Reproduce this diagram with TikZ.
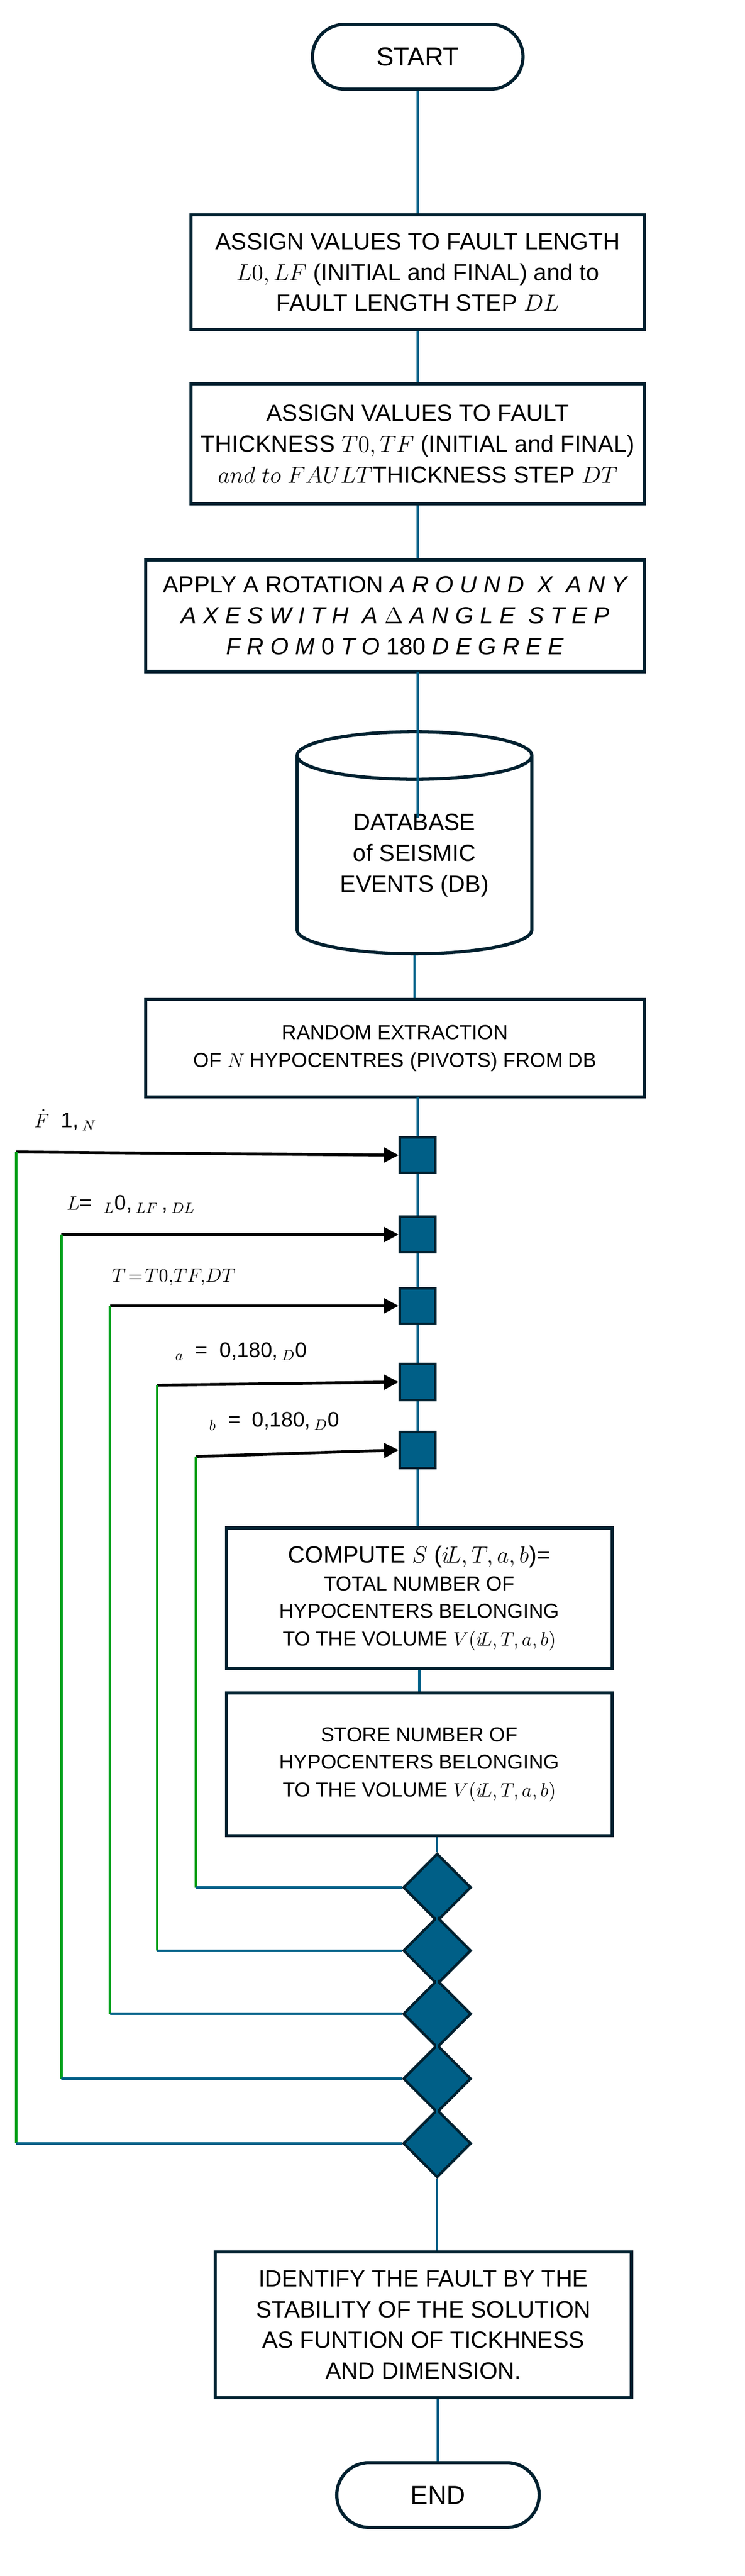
\documentclass[tikz,border=0pt]{standalone}
\usepackage{amsmath}
\usepackage{amssymb}
\usepackage{fontspec}
\setmainfont{Liberation Sans}
\usetikzlibrary{arrows.meta}
\usetikzlibrary{shapes.geometric}
\definecolor{navy}{HTML}{00202F}
\definecolor{flow}{HTML}{005F87}
\definecolor{loopg}{HTML}{00A01A}
\tikzset{
  box/.style={draw=navy, line width=2pt, align=center, inner sep=0pt, font=\fontsize{14.5}{19}\selectfont},
  term/.style={box, rounded corners=20pt, minimum width=130pt, minimum height=40pt, font=\fontsize{16}{18}\selectfont},
  flowline/.style={draw=flow, line width=1.5pt},
  loopline/.style={draw=loopg, line width=1.5pt},
  entry/.style={draw=black, line width=1.8pt, -{Triangle[length=9pt,width=9pt]}},
  sq/.style={draw=navy, fill=flow, line width=1.6pt, minimum size=22pt, inner sep=0pt},
  dia/.style={draw=navy, fill=flow, line width=1.6pt, diamond, minimum size=42pt, inner sep=0pt},
  lab/.style={anchor=south west, inner sep=1pt, font=\fontsize{13}{14}\selectfont},
}
\begin{document}
\begin{tikzpicture}[x=1pt,y=-1pt]
\useasboundingbox (0,0) rectangle (460,1590);
\node[term] (start) at (258,35) {START};
\node[box, minimum width=280pt, minimum height=71pt] (len) at (258,168)
  {ASSIGN VALUES TO FAULT LENGTH\\ $L0, LF$ (INITIAL and FINAL) and to\\ FAULT LENGTH STEP $DL$};
\node[box, minimum width=280pt, minimum height=74pt] (thk) at (258,274)
  {ASSIGN VALUES TO FAULT\\ THICKNESS $T0,TF$ (INITIAL and FINAL)\\ $and\ to\ FAULT$THICKNESS STEP $DT$};
\node[box, minimum width=308pt, minimum height=69pt] (rot) at (244,380)
  {APPLY\ A ROTATION {\rmfamily\itshape A R O U N D\ \ X\ \ A N Y}\\
   {\rmfamily\itshape A X E S W I T H\ \ A} $\Delta$ {\rmfamily\itshape A N G L E\ \ S T E P}\\
   {\rmfamily\itshape F R O M} 0 {\rmfamily\itshape T O} 180 {\rmfamily\itshape D E G R E E}};
\node[box, cylinder, shape border rotate=90, aspect=0.32, minimum width=145pt, minimum height=137pt] (db) at (256,528)
  {DATABASE\\of SEISMIC\\EVENTS (DB)};
\node[box, minimum width=308pt, minimum height=60pt, font=\fontsize{12.5}{17}\selectfont] (ext) at (244,647)
  {RANDOM EXTRACTION\\OF $N$ HYPOCENTRES (PIVOTS) FROM DB};
% loop heads
\foreach \y [count=\k] in {713,762,806,853,895} \node[sq] (s\k) at (258,\y) {};
\node[box, minimum width=238pt, minimum height=87pt, font=\fontsize{12.5}{17}\selectfont] (cmp) at (259,986.5)
  {{\fontsize{14.5}{17}\selectfont COMPUTE $S$ ($i\!L,T,a,b$)=}\\ TOTAL NUMBER OF\\ HYPOCENTERS BELONGING\\ TO THE VOLUME $V(i\!L,T,a,b)$};
\node[box, minimum width=238pt, minimum height=88pt, font=\fontsize{12.5}{17}\selectfont] (sto) at (259,1089)
  {STORE NUMBER OF\\ HYPOCENTERS BELONGING\\ TO THE VOLUME $V(i\!L,T,a,b)$};
% loop ends
\foreach \y [count=\k] in {1165,1204,1243,1283,1323} \node[dia] (d\k) at (270,\y) {};
\node[box, minimum width=257pt, minimum height=90pt] (idf) at (261.5,1435)
  {IDENTIFY THE FAULT BY THE\\ STABILITY OF THE SOLUTION\\ AS FUNTION OF TICKHNESS\\ AND DIMENSION.};
\node[term, minimum width=125pt] (stop) at (270.5,1540) {END};
% main flow
\draw[flowline] (start) -- (len);
\draw[flowline] (len) -- (thk);
\draw[flowline] (thk.south) -- (thk.south |- rot.north);
\coordinate (dbin) at (258,505);
\draw[flowline] (258,415) -- (dbin);
\draw[flowline] (db.bottom) -- (db.bottom |- ext.north);
\draw[flowline] (258,677) -- (s1);
\foreach \a/\b in {s1/s2,s2/s3,s3/s4,s4/s5} \draw[flowline] (\a) -- (\b);
\draw[flowline] (s5) -- (s5 |- cmp.north);
\draw[flowline] (cmp) -- (sto);
\draw[flowline] (sto.south -| d1) -- (d1);
\foreach \a/\b in {d1/d2,d2/d3,d3/d4,d4/d5} \draw[flowline] (\a) -- (\b);
\draw[flowline] (d5) -- (d5 |- idf.north);
\draw[flowline] (idf.south -| stop) -- (stop);
% loop starts
\coordinate (g1) at (10,711);
\coordinate (g2) at (38,762);
\coordinate (g3) at (68,806);
\coordinate (g4) at (97,855);
\coordinate (g5) at (121,899);
\foreach \k in {1,...,5} \draw[entry] (g\k) -- (s\k.west);
\node[lab] at (20,699) {$\dot{F}$\ \ 1,\,$_{N}$};
\node[lab] at (40,750) {$L$= \ $_L$0,\,$_{LF}$\,,\,$_{DL}$};
\node[lab] at (68,795) {$T\!=\!T0,\!TF,\!DT$};
\node[lab] at (107,841) {$_a$\ \ =\ \ 0,180,\,$_D$0};
\node[lab] at (128,884) {$_b$\ \ =\ \ 0,180,\,$_D$0};
% loop returns
\foreach \k [evaluate=\k as \j using int(6-\k)] in {1,...,5} {
  \draw[loopline] (g\j) -- (g\j |- d\k);
  \draw[flowline] (d\k.west) -- (d\k.west -| g\j);
}
\end{tikzpicture}
\end{document}
